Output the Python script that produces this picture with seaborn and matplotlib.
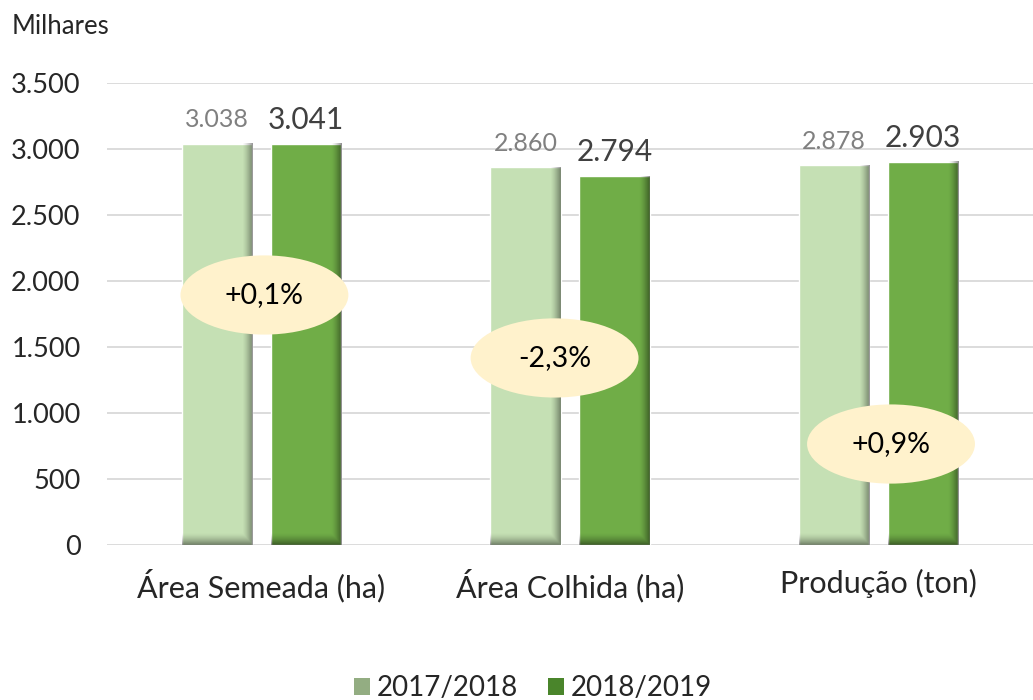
import matplotlib
matplotlib.use('Agg')
import matplotlib.pyplot as plt
from matplotlib.patches import Ellipse, Patch
from matplotlib.ticker import FuncFormatter
import seaborn as sns
import pandas as pd
import numpy as np

categorias = ['Área Semeada (ha)', 'Área Colhida (ha)', 'Produção (ton)']
safras = ['2017/2018', '2018/2019']
valores_1718 = [3038, 2860, 2878]
valores_1819 = [3041, 2794, 2903]

cores = ['#C5E0B4', '#70AD47']

df = pd.DataFrame({
    'categoria': categorias * 2,
    'safra': [safras[0]] * 3 + [safras[1]] * 3,
    'valor': valores_1718 + valores_1819,
})

sns.set_style('white')
plt.rcParams['font.family'] = ['Lato', 'DejaVu Sans']

fig = plt.figure(figsize=(10.33, 7), dpi=100)
ax = fig.add_axes([107 / 1033, 1 - 545 / 700, (1033 - 107) / 1033, (545 - 83) / 700])

sns.barplot(data=df, x='categoria', y='valor', hue='safra', palette=cores,
            saturation=1, width=0.577, gap=0.21, ax=ax, legend=False, zorder=2)

ax.set_ylim(0, 3500)
ax.set_xlim(-0.5, 2.5)
ax.set_yticks(np.arange(0, 3501, 500))
ax.yaxis.set_major_formatter(FuncFormatter(lambda v, p: f'{v:,.0f}'.replace(',', '.')))
ax.grid(axis='y', color='#D9D9D9', linewidth=1.3, zorder=0)
ax.set_axisbelow(True)
for s in ax.spines.values():
    s.set_visible(False)
ax.tick_params(axis='y', length=0, pad=19, labelsize=19.5)
ax.tick_params(axis='x', length=0, pad=17, labelsize=22)
ax.set_xlabel('')
ax.set_ylabel('')

# shading on right edge and bottom of each bar
for cont, amax in zip(ax.containers, [0.42, 0.45]):
    for bar in cont:
        x, w, h = bar.get_x(), bar.get_width(), bar.get_height()
        nx, ny = 200, 400
        xs = np.linspace(0, w, nx)
        ys = np.linspace(h, 0, ny)
        rx = np.clip((xs - (w - 0.034)) / 0.034, 0, 1) ** 1.4
        by = np.clip((90 - ys) / 90, 0, 1) ** 1.5
        a = np.maximum(rx[None, :], by[:, None]) * amax
        img = np.zeros((ny, nx, 4))
        img[..., 3] = a
        ax.imshow(img, extent=[x, x + w, 0, h], aspect='auto', zorder=2.5,
                  interpolation='bilinear')

ax.set_xlim(-0.5, 2.5)
ax.set_ylim(0, 3500)

ax.bar_label(ax.containers[0], labels=[f'{v:,}'.replace(',', '.') for v in valores_1718],
             padding=9, fontsize=18, color='#808080')
ax.bar_label(ax.containers[1], labels=[f'{v:,}'.replace(',', '.') for v in valores_1819],
             padding=7, fontsize=21.5, color='#404040')

# variation bubbles
bolha_dx = [0.01, -0.05, 0.04]
bolha_y = [1894, 1417, 765]
for i, (a, b) in enumerate(zip(valores_1718, valores_1819)):
    pct = (b - a) / a * 100
    txt = f'{pct:+.1f}%'.replace('.', ',')
    ax.add_patch(Ellipse((i + bolha_dx[i], bolha_y[i]), 0.544, 600,
                         facecolor='#FFF2CC', edgecolor='none', zorder=4))
    ax.text(i + bolha_dx[i], bolha_y[i], txt, ha='center', va='center',
            fontsize=20.5, color='black', zorder=5)

fig.text(12 / 1033, 1 - 26 / 700, 'Milhares', fontsize=18.5, va='center', ha='left')

handles = [Patch(facecolor='#93AD82', edgecolor='none'),
           Patch(facecolor='#4A852B', edgecolor='none')]
fig.legend(handles, safras, loc='center', bbox_to_anchor=(533 / 1033, 1 - 688 / 700),
           ncol=2, frameon=False, fontsize=20, handlelength=0.55, handleheight=0.55,
           handletextpad=0.25, columnspacing=1.1)

fig.savefig('out.png', dpi=100)
